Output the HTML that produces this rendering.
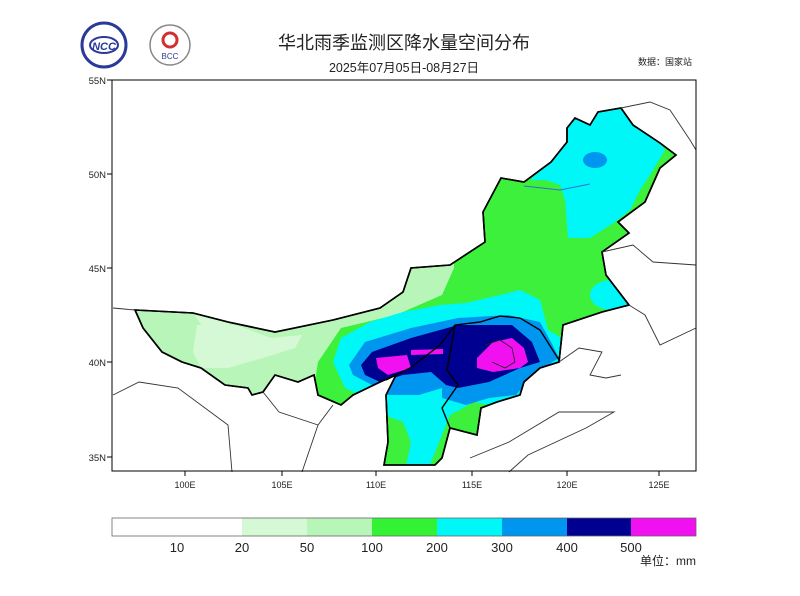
<!DOCTYPE html>
<html><head><meta charset="utf-8"><style>
html,body{margin:0;padding:0;background:#fff;width:800px;height:596px;overflow:hidden}
svg{display:block}
</style></head><body>
<svg width="800" height="596" viewBox="0 0 800 596" xmlns="http://www.w3.org/2000/svg" font-family="Liberation Sans, Noto Sans CJK SC, sans-serif">
<defs>
<clipPath id="im"><polygon id="outer" points="135,310 193,313 228,322 275,332 333,320 380,308 403,292 411,268 450,265 485,242 483,212 501,178 524,182 551,162 567,142 567,128 575,118 590,125 598,112 621,108 633,125 660,143 676,155 660,168 645,202 618,222 629,233 602,252 606,275 629,305 602,312 563,325 559,362 540,368 524,382 520,395 497,402 481,408 477,435 450,428 442,458 435,465 384,465 388,442 386,395 396,375 380,382 353,395 341,405 318,395 314,375 298,382 275,375 263,392 252,395 248,388 225,385 201,368 182,362 162,352 143,328"/></clipPath>
</defs>
<!-- logos -->
<circle cx="104" cy="45" r="22" fill="#fff" stroke="#2a3a9a" stroke-width="3"/>
<ellipse cx="104" cy="45" rx="14" ry="8" fill="none" stroke="#2a3a9a" stroke-width="2"/>
<text x="104" y="50" font-size="11" font-weight="bold" font-style="italic" fill="#2a3a9a" text-anchor="middle">NCC</text>
<circle cx="170" cy="45" r="20" fill="#fff" stroke="#888" stroke-width="1.5"/>
<circle cx="170" cy="40" r="7" fill="none" stroke="#d03030" stroke-width="3"/>
<text x="170" y="59" font-size="8" fill="#2a3a9a" text-anchor="middle">BCC</text>
<!-- titles -->
<text x="404" y="49" font-size="18" fill="#222" text-anchor="middle">华北雨季监测区降水量空间分布</text>
<text x="404" y="72" font-size="12.5" fill="#222" text-anchor="middle">2025年07月05日-08月27日</text>
<text x="665" y="65" font-size="9" fill="#222" text-anchor="middle">数据：国家站</text>
<!-- map fills -->
<g clip-path="url(#im)">
<rect x="100" y="90" width="600" height="400" fill="#3cf03c"/>
<polygon points="100,250 454,250 454,268 442,295 396,315 341,328 318,362 312,400 100,420" fill="#b8f5b8"/>
<polygon points="193,313 228,315 230,330 205,330" fill="#d4f9d4"/>
<polygon points="197,325 236,325 271,338 302,335 295,348 263,358 228,368 201,368 193,352" fill="#d4f9d4"/>
<polygon points="551,160 567,128 575,118 590,125 598,112 621,108 633,125 660,143 665,150 650,175 640,190 630,210 615,222 590,238 568,238 565,200 560,185 545,180 530,180" fill="#00f7f7"/>
<ellipse cx="595" cy="160" rx="12" ry="8" fill="#0096f0"/>
<ellipse cx="612" cy="295" rx="22" ry="15" fill="#00f7f7"/>
<polygon points="333,362 341,338 370,322 403,312 440,305 466,303 500,295 520,290 540,300 548,330 565,340 565,380 520,400 497,405 470,405 450,415 440,440 430,465 407,465 400,440 385,425 360,395 345,388" fill="#00f7f7"/>
<polygon points="384,415 403,422 411,442 407,462 384,465" fill="#3cf03c"/>
<polygon points="450,415 474,402 489,405 481,432 450,428" fill="#3cf03c"/>
<polygon points="349,365 365,342 411,328 458,318 508,315 540,322 551,342 559,358 536,372 516,395 489,398 466,405 442,398 442,388 419,395 403,395 388,395 372,385 353,375" fill="#0096f0"/>
<polygon points="361,365 372,352 411,338 458,325 512,325 532,342 540,362 520,368 489,382 458,388 446,385 431,372 403,375 380,382 365,375" fill="#000090"/>
<polygon points="376,358 407,355 411,368 388,375 378,368" fill="#f010f0"/>
<polygon points="411,350 443,349 443,354 411,355" fill="#f010f0"/>
<polygon points="477,358 493,342 512,338 524,348 528,362 520,368 493,372 477,368" fill="#f010f0"/>
</g>
<polyline points="524,186 560,190 590,184" fill="none" stroke="#3070d0" stroke-width="1"/>
<use href="#outer" fill="none" stroke="#000" stroke-width="1.6"/>
<polygon points="135,310 193,313 228,322 275,332 333,320 380,308 403,292 411,268 450,265 485,242 483,212 501,178 524,182 551,162 567,142 567,128 575,118 590,125 598,112 621,108 633,125 660,143 676,155 660,168 645,202 618,222 629,233 602,252 606,275 629,305 602,312 563,325 559,362 540,368 524,382 520,395 497,402 481,408 477,435 450,428 442,458 435,465 384,465 388,442 386,395 396,375 380,382 353,395 341,405 318,395 314,375 298,382 275,375 263,392 252,395 248,388 225,385 201,368 182,362 162,352 143,328" fill="none" stroke="#000" stroke-width="1.6"/>
<!-- province borders inside -->
<polyline points="386,380 410,368 440,345 455,325 480,322 500,316 520,318 540,330 559,360" fill="none" stroke="#000" stroke-width="1.4"/>
<polyline points="455,325 447,370 458,385 442,408 450,428" fill="none" stroke="#000" stroke-width="1.4"/>
<polyline points="485,345 500,340 512,348 515,362 505,368 492,362" fill="none" stroke="#222" stroke-width="0.8"/>
<!-- outside borders -->
<g fill="none" stroke="#333" stroke-width="0.9">
<polyline points="602,252 633,245 653,262 696,265"/>
<polyline points="629,305 645,315 660,345 696,328"/>
<polyline points="559,362 579,348 602,352 590,375 606,378 621,375"/>
<polyline points="470,458 509,442 559,412 614,412 586,428 528,455 509,472"/>
<polyline points="113,395 139,382 178,388 228,425 232,472"/>
<polyline points="263,392 279,412 318,425 302,472"/>
<polyline points="333,405 318,425"/>
<polyline points="113,308 135,310"/>
<polyline points="621,108 650,102 670,110 690,140 696,150"/>
</g>
<!-- frame -->
<rect x="112" y="80" width="584" height="391" fill="none" stroke="#000" stroke-width="1"/>
<g stroke="#000" stroke-width="1">
<line x1="107" y1="80" x2="112" y2="80"/><line x1="107" y1="174" x2="112" y2="174"/><line x1="107" y1="268" x2="112" y2="268"/><line x1="107" y1="362" x2="112" y2="362"/><line x1="107" y1="457" x2="112" y2="457"/>
<line x1="185" y1="471" x2="185" y2="476"/><line x1="282" y1="471" x2="282" y2="476"/><line x1="376" y1="471" x2="376" y2="476"/><line x1="472" y1="471" x2="472" y2="476"/><line x1="567" y1="471" x2="567" y2="476"/><line x1="659" y1="471" x2="659" y2="476"/>
</g>
<g font-size="9.5" fill="#222" text-anchor="end">
<text x="106" y="84">55N</text><text x="106" y="178">50N</text><text x="106" y="272">45N</text><text x="106" y="366">40N</text><text x="106" y="461">35N</text>
</g>
<g font-size="9" fill="#222" text-anchor="middle">
<text x="185" y="488">100E</text><text x="282" y="488">105E</text><text x="376" y="488">110E</text><text x="472" y="488">115E</text><text x="567" y="488">120E</text><text x="659" y="488">125E</text>
</g>
<!-- legend -->
<rect x="112" y="518" width="130" height="18" fill="#fff"/>
<rect x="242" y="518" width="65" height="18" fill="#d4f9d4"/>
<rect x="307" y="518" width="65" height="18" fill="#b8f5b8"/>
<rect x="372" y="518" width="65" height="18" fill="#33f233"/>
<rect x="437" y="518" width="65" height="18" fill="#00f7f7"/>
<rect x="502" y="518" width="65" height="18" fill="#0096f0"/>
<rect x="567" y="518" width="64" height="18" fill="#000090"/>
<rect x="631" y="518" width="65" height="18" fill="#f010f0"/>
<rect x="112" y="518" width="584" height="18" fill="none" stroke="#666" stroke-width="0.8"/>
<g font-size="13" fill="#222" text-anchor="middle">
<text x="177" y="552">10</text><text x="242" y="552">20</text><text x="307" y="552">50</text><text x="372" y="552">100</text><text x="437" y="552">200</text><text x="502" y="552">300</text><text x="567" y="552">400</text><text x="631" y="552">500</text>
</g>
<text x="696" y="565" font-size="12" fill="#222" text-anchor="end">单位：mm</text>
</svg>
</body></html>
